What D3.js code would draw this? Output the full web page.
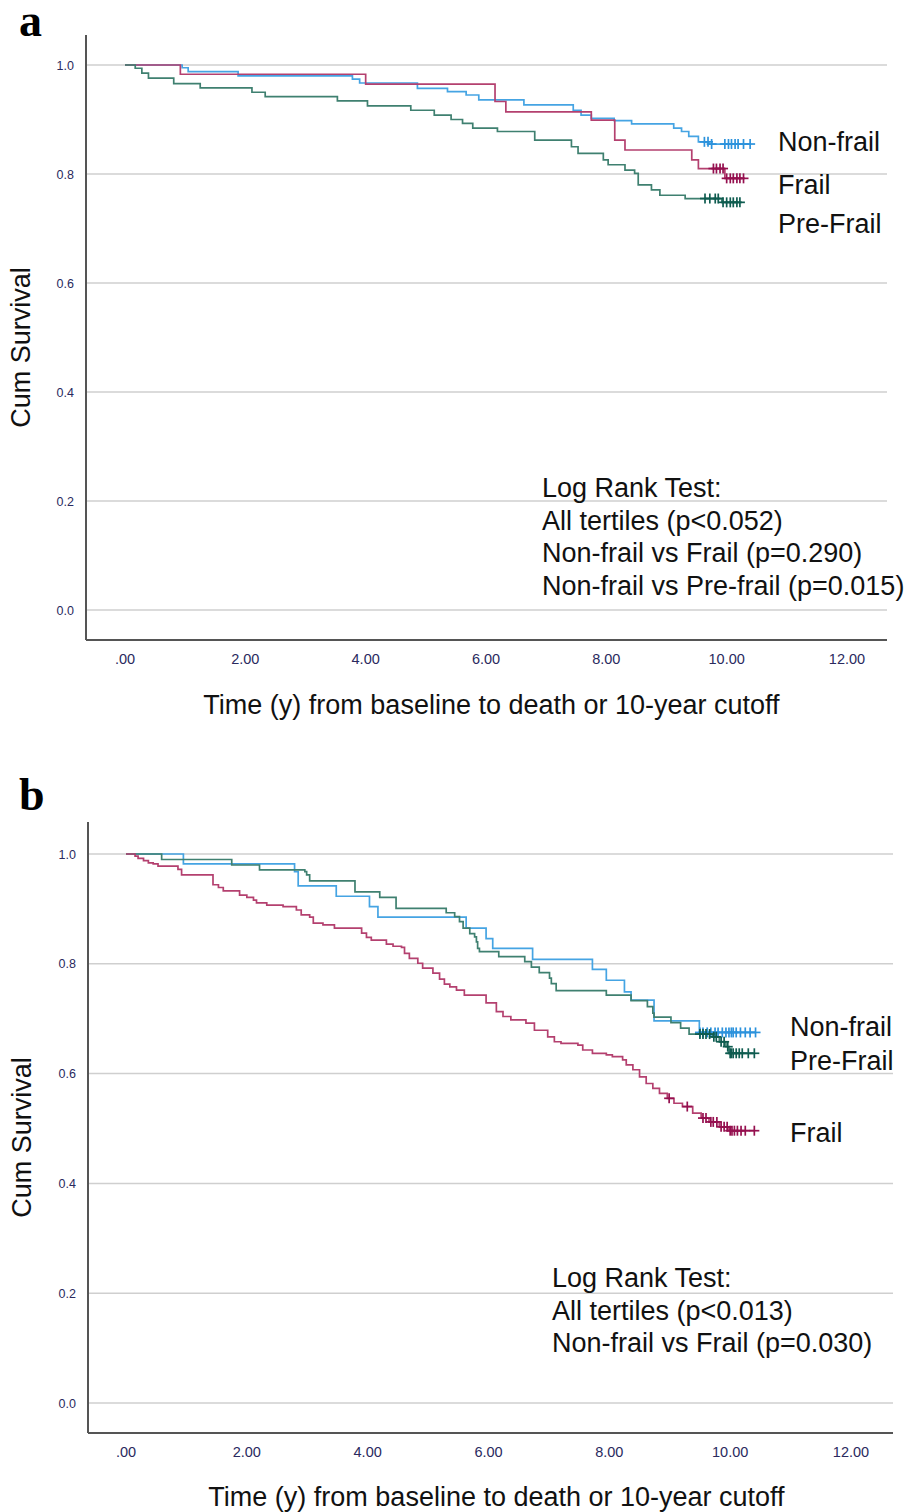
<!DOCTYPE html>
<html>
<head>
<meta charset="utf-8">
<script src="https://cdn.jsdelivr.net/npm/d3@7"></script>
<style>
  body { margin: 0; background: #fff; }
  svg text { font-family: "Liberation Sans", Arial, sans-serif; }
  svg text.letter { font-family: "Liberation Serif", "Times New Roman", serif; font-weight: bold; }
</style>
</head>
<body>
<div id="chart"></div>
<script>
// ---------- DATA ----------
const xTicks = [0, 2, 4, 6, 8, 10, 12];
const yTicks = [0, 0.2, 0.4, 0.6, 0.8, 1.0];
const groups = ["Non-frail", "Frail", "Pre-Frail"];

// panel a
const aNonfrailTime = [0, 0.95, 1.05, 1.88, 3.78, 3.9, 4.86, 5.36, 5.67, 5.88, 6.63, 7.45, 7.58, 7.75, 8.13, 8.42, 9.12, 9.25, 9.37, 9.53, 9.7];
const aNonfrailSurv = [1.0, 0.995, 0.988, 0.98, 0.974, 0.967, 0.957, 0.951, 0.945, 0.936, 0.927, 0.917, 0.908, 0.902, 0.898, 0.892, 0.884, 0.878, 0.869, 0.859, 0.855];
const aNonfrailCensor = [9.63, 9.69, 9.75, 9.97, 10.03, 10.08, 10.14, 10.19, 10.28, 10.39];

const aFrailTime = [0, 0.92, 4.0, 6.15, 6.33, 7.75, 8.14, 8.31, 9.42, 9.53, 9.97];
const aFrailSurv = [1.0, 0.983, 0.965, 0.933, 0.914, 0.899, 0.862, 0.844, 0.826, 0.81, 0.792];
const aFrailCensor = [9.78, 9.83, 9.89, 9.94, 10.0, 10.06, 10.11, 10.17, 10.22, 10.28];

const aPrefrailTime = [0, 0.17, 0.28, 0.39, 0.81, 1.25, 2.11, 2.33, 3.53, 4.03, 4.75, 5.14, 5.42, 5.61, 5.78, 6.19, 6.81, 7.42, 7.53, 7.95, 8.03, 8.31, 8.47, 8.53, 8.75, 8.89, 9.31, 9.92];
const aPrefrailSurv = [1.0, 0.994, 0.985, 0.976, 0.966, 0.958, 0.95, 0.942, 0.934, 0.925, 0.917, 0.908, 0.9, 0.893, 0.884, 0.878, 0.862, 0.85, 0.838, 0.826, 0.817, 0.807, 0.801, 0.78, 0.771, 0.761, 0.755, 0.748];
const aPrefrailCensor = [9.64, 9.72, 9.81, 9.86, 9.94, 10.0, 10.06, 10.11, 10.17, 10.22];

// panel b
const bNonfrailTime = [0, 0.95, 2.79, 2.85, 3.48, 4.03, 4.17, 5.63, 5.96, 6.07, 6.73, 7.72, 7.95, 8.25, 8.36, 8.74, 9.49];
const bNonfrailSurv = [1.0, 0.982, 0.968, 0.942, 0.923, 0.904, 0.885, 0.865, 0.846, 0.828, 0.808, 0.79, 0.77, 0.749, 0.734, 0.696, 0.675];
const bNonfrailCensor = [9.5, 9.55, 9.62, 9.68, 9.75, 9.8, 9.87, 9.93, 9.98, 10.02, 10.05, 10.1, 10.17, 10.25, 10.33, 10.42];

const bFrailTime = [0, 0.15, 0.2, 0.29, 0.37, 0.45, 0.53, 0.86, 0.92, 1.44, 1.53, 1.61, 1.88, 2.0, 2.11, 2.16, 2.33, 2.6, 2.82, 2.9, 3.04, 3.1, 3.26, 3.45, 3.9, 3.98, 4.06, 4.31, 4.42, 4.56, 4.61, 4.69, 4.83, 4.91, 5.08, 5.19, 5.27, 5.36, 5.47, 5.6, 5.96, 6.13, 6.24, 6.37, 6.62, 6.76, 6.98, 7.09, 7.2, 7.48, 7.56, 7.72, 7.95, 8.05, 8.22, 8.28, 8.39, 8.5, 8.61, 8.72, 8.83, 8.96, 9.07, 9.21, 9.38, 9.52, 9.65, 9.82, 9.98];
const bFrailSurv = [1.0, 0.996, 0.992, 0.988, 0.984, 0.982, 0.978, 0.972, 0.962, 0.944, 0.939, 0.933, 0.925, 0.921, 0.916, 0.911, 0.907, 0.904, 0.898, 0.889, 0.885, 0.874, 0.871, 0.865, 0.856, 0.848, 0.843, 0.836, 0.832, 0.83, 0.819, 0.81, 0.801, 0.792, 0.783, 0.772, 0.763, 0.758, 0.752, 0.743, 0.729, 0.713, 0.704, 0.698, 0.692, 0.679, 0.667, 0.658, 0.655, 0.652, 0.643, 0.637, 0.634, 0.631, 0.625, 0.616, 0.607, 0.594, 0.582, 0.573, 0.564, 0.555, 0.546, 0.54, 0.528, 0.519, 0.512, 0.503, 0.496];
const bFrailCensor = [8.99, 9.29, 9.55, 9.6, 9.68, 9.72, 9.78, 9.85, 9.9, 9.95, 10.0, 10.03, 10.07, 10.12, 10.18, 10.25, 10.4];

const bPrefrailTime = [0, 0.59, 1.75, 2.21, 2.96, 2.99, 3.04, 3.79, 4.2, 4.47, 5.3, 5.44, 5.52, 5.58, 5.69, 5.77, 5.8, 5.82, 5.85, 6.17, 6.6, 6.71, 6.84, 7.01, 7.04, 7.12, 7.95, 8.36, 8.63, 8.72, 8.74, 9.02, 9.18, 9.32, 9.71, 9.82, 9.93, 9.98];
const bPrefrailSurv = [1.0, 0.99, 0.98, 0.971, 0.968, 0.962, 0.951, 0.931, 0.921, 0.901, 0.893, 0.886, 0.877, 0.865, 0.855, 0.849, 0.84, 0.828, 0.822, 0.813, 0.804, 0.794, 0.784, 0.774, 0.764, 0.751, 0.743, 0.733, 0.722, 0.71, 0.703, 0.693, 0.683, 0.672, 0.667, 0.658, 0.649, 0.637];
const bPrefrailCensor = [9.5, 9.55, 9.6, 9.66, 9.73, 9.77, 9.85, 9.9, 9.96, 10.0, 10.02, 10.05, 10.1, 10.15, 10.2, 10.3, 10.4];

const colors = { "Non-frail": "#45a4e3", "Frail": "#b4406f", "Pre-Frail": "#3f8070" };
const censorColors = { "Non-frail": "#2c92dc", "Frail": "#95104f", "Pre-Frail": "#0f5c50" };

// ---------- SVG ----------
const svg = d3.select("#chart")
    .append("svg")
    .attr("width", 912)
    .attr("height", 1512);

drawPanel({
    letter: "a", letterY: 36,
    xRange: [125, 847], yRange: [610, 65],
    left: 86, right: 887, top: 35, bottom: 640,
    xTitleY: 714, xTitleShift: 5, yTitleX: 30,
    series: [
        { name: "Non-frail", time: aNonfrailTime, surv: aNonfrailSurv, censor: aNonfrailCensor },
        { name: "Frail", time: aFrailTime, surv: aFrailSurv, censor: aFrailCensor },
        { name: "Pre-Frail", time: aPrefrailTime, surv: aPrefrailSurv, censor: aPrefrailCensor }
    ],
    labels: [["Non-frail", 151], ["Frail", 194], ["Pre-Frail", 233]],
    labelX: 778,
    notes: ["Log Rank Test:", "All tertiles (p<0.052)", "Non-frail vs Frail (p=0.290)", "Non-frail vs Pre-frail (p=0.015)"],
    noteX: 542, noteY: 497
});

drawPanel({
    letter: "b", letterY: 810,
    xRange: [126, 851], yRange: [1403, 854],
    left: 88, right: 893, top: 822, bottom: 1433,
    xTitleY: 1506, xTitleShift: 6, yTitleX: 31,
    series: [
        { name: "Non-frail", time: bNonfrailTime, surv: bNonfrailSurv, censor: bNonfrailCensor },
        { name: "Pre-Frail", time: bPrefrailTime, surv: bPrefrailSurv, censor: bPrefrailCensor },
        { name: "Frail", time: bFrailTime, surv: bFrailSurv, censor: bFrailCensor }
    ],
    labels: [["Non-frail", 1036], ["Pre-Frail", 1070], ["Frail", 1142]],
    labelX: 790,
    notes: ["Log Rank Test:", "All tertiles (p<0.013)", "Non-frail vs Frail (p=0.030)"],
    noteX: 552, noteY: 1287
});

function drawPanel(p) {
    const g = svg.append("g");

    const x = d3.scaleLinear().domain([0, 12]).range(p.xRange);
    const y = d3.scaleLinear().domain([0, 1]).range(p.yRange);

    // gridlines
    g.selectAll(".grid")
        .data(yTicks)
        .enter()
        .append("line")
        .attr("x1", p.left)
        .attr("x2", p.right)
        .attr("y1", (d) => y(d))
        .attr("y2", (d) => y(d))
        .attr("stroke", "#cfcfcf")
        .attr("stroke-width", 1.5);

    // axes lines
    g.append("line")
        .attr("x1", p.left).attr("x2", p.left)
        .attr("y1", p.top).attr("y2", p.bottom)
        .attr("stroke", "#555").attr("stroke-width", 2);
    g.append("line")
        .attr("x1", p.left).attr("x2", p.right)
        .attr("y1", p.bottom).attr("y2", p.bottom)
        .attr("stroke", "#555").attr("stroke-width", 2);

    // tick labels
    const fmtX = (d) => d3.format(".2f")(d).replace(/^0/, "");
    g.selectAll(".xt")
        .data(xTicks)
        .enter()
        .append("text")
        .attr("x", (d) => x(d))
        .attr("y", p.bottom + 24)
        .attr("text-anchor", "middle")
        .attr("font-size", "14.5px")
        .attr("fill", "#2a2a5e")
        .text(fmtX);

    g.selectAll(".yt")
        .data(yTicks)
        .enter()
        .append("text")
        .attr("x", p.left - 12)
        .attr("y", (d) => y(d) + 4.5)
        .attr("text-anchor", "end")
        .attr("font-size", "12.5px")
        .attr("fill", "#2a2a5e")
        .text((d) => d3.format(".1f")(d));

    // axis titles
    g.append("text")
        .attr("x", (p.left + p.right) / 2 + p.xTitleShift)
        .attr("y", p.xTitleY)
        .attr("text-anchor", "middle")
        .attr("font-size", "27px")
        .attr("fill", "#111")
        .text("Time (y) from baseline to death or 10-year cutoff");

    g.append("text")
        .attr("transform", `translate(${p.yTitleX},${(p.top + p.bottom) / 2 + 10}) rotate(-90)`)
        .attr("text-anchor", "middle")
        .attr("font-size", "27px")
        .attr("fill", "#111")
        .text("Cum Survival");

    // panel letter
    g.append("text")
        .attr("class", "letter")
        .attr("x", 19)
        .attr("y", p.letterY)
        .attr("font-size", "46px")
        .attr("fill", "#000")
        .text(p.letter);

    // survival curves
    const line = d3.line()
        .x((d) => x(d[0]))
        .y((d) => y(d[1]))
        .curve(d3.curveStepAfter);

    p.series.forEach((s) => {
        const pts = s.time.map((t, i) => [t, s.surv[i]]);
        pts.push([d3.max(s.censor), s.surv[s.surv.length - 1]]);

        g.append("path")
            .datum(pts)
            .attr("d", line)
            .attr("fill", "none")
            .attr("stroke", colors[s.name])
            .attr("stroke-width", 1.7);

        // censor marks
        const survAt = (t) => s.surv[d3.bisectRight(s.time, t) - 1];
        const marks = g.append("g");
        s.censor.forEach((t) => {
            const cx = x(t), cy = y(survAt(t));
            marks.append("line")
                .attr("x1", cx - 5).attr("x2", cx + 5)
                .attr("y1", cy).attr("y2", cy);
            marks.append("line")
                .attr("x1", cx).attr("x2", cx)
                .attr("y1", cy - 5).attr("y2", cy + 5);
        });
        marks.selectAll("line")
            .attr("stroke", censorColors[s.name])
            .attr("stroke-width", 1.7);
    });

    // group labels
    g.selectAll(".lbl")
        .data(p.labels)
        .enter()
        .append("text")
        .attr("x", p.labelX)
        .attr("y", (d) => d[1])
        .attr("font-size", "27px")
        .attr("fill", "#111")
        .text((d) => d[0]);

    // log rank notes
    g.selectAll(".note")
        .data(p.notes)
        .enter()
        .append("text")
        .attr("x", p.noteX)
        .attr("y", (d, i) => p.noteY + i * 32.5)
        .attr("font-size", "27px")
        .attr("fill", "#111")
        .text((d) => d);
}
</script>
</body>
</html>
